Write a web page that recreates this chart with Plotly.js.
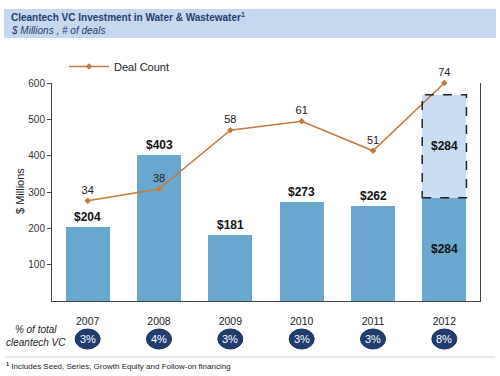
<!DOCTYPE html>
<html>
<head>
<meta charset="utf-8">
<script src="https://cdn.plot.ly/plotly-3.0.1.min.js"></script>
<style>html,body{margin:0;padding:0;background:#fff;}#chart{width:500px;height:376px;}</style>
</head>
<body>
<div id="chart"></div>
<script>
// ---- data ----
const years = ["2007", "2008", "2009", "2010", "2011", "2012"];
const investment = [204, 403, 181, 273, 262, 284];
const projected = [0, 0, 0, 0, 0, 284];
const dealCount = [34, 38, 58, 61, 51, 74];
const pctOfTotal = ["3%", "4%", "3%", "3%", "3%", "8%"];

const FONT = "Liberation Sans, Arial, sans-serif";
const NAVY = "#1f3d6e";
const BAR = "#69a7cf";
const BAR_LIGHT = "#c9def2";
const LINE = "#c47a3c";

// paper helpers: plot area 52..480 px horizontally, 83..301 px vertically
const L = 52, R = 480, T = 83, B = 301;
const px = v => (v - L) / (R - L);
const py = v => (B - v) / (B - T);
const n = years.length;
const catPaper = i => (i + 0.5) / n;

const xi = years.map((_, i) => i);

const traces = [
  {
    type: "bar", x: xi, y: investment, width: 0.62,
    marker: {color: BAR}, showlegend: false, hoverinfo: "skip"
  },
  {
    type: "bar", x: xi, y: projected, width: 0.62,
    marker: {color: BAR_LIGHT}, showlegend: false, hoverinfo: "skip"
  },
  {
    type: "scatter", mode: "lines+markers+text", x: xi, y: dealCount, yaxis: "y2",
    name: "Deal Count",
    line: {color: LINE, width: 1.5},
    marker: {color: LINE, size: 5, symbol: "diamond"},
    text: dealCount.map(String), textposition: "top center",
    textfont: {family: FONT, size: 11, color: "#222"},
    cliponaxis: false, hoverinfo: "skip"
  }
];

const annotations = [];
const shapes = [];

// title band
shapes.push({type: "rect", xref: "paper", yref: "paper",
  x0: px(4), x1: px(496), y0: py(38), y1: py(9),
  fillcolor: "#c6d8ef", line: {width: 0}, layer: "below"});
annotations.push({xref: "paper", yref: "paper", x: px(9), y: py(17), xanchor: "left", yanchor: "middle",
  text: "<b>Cleantech VC Investment in Water &amp; Wastewater<sup>1</sup></b>", showarrow: false,
  font: {family: FONT, size: 10, color: NAVY}});
annotations.push({xref: "paper", yref: "paper", x: px(9), y: py(30), xanchor: "left", yanchor: "middle",
  text: "<i>$ Millions , # of deals</i>", showarrow: false,
  font: {family: FONT, size: 10, color: NAVY}});

// y-axis title
annotations.push({xref: "paper", yref: "paper", x: px(20), y: py(191), xanchor: "center", yanchor: "middle",
  text: "$ Millions", textangle: -90, showarrow: false,
  font: {family: FONT, size: 11, color: "#222"}});

// bar value labels
investment.forEach((v, i) => {
  const tot = v + projected[i];
  if (projected[i] > 0) {
    annotations.push({x: i, y: v / 2, xref: "x", yref: "y", text: "<b>$" + v + "</b>", showarrow: false,
      font: {family: FONT, size: 12, color: "#111"}});
    annotations.push({x: i, y: v + projected[i] / 2, xref: "x", yref: "y", text: "<b>$" + projected[i] + "</b>", showarrow: false,
      font: {family: FONT, size: 12, color: "#111"}});
    shapes.push({type: "rect", xref: "x", yref: "y", x0: i - 0.31, x1: i + 0.31, y0: v, y1: tot,
      line: {color: "#222", width: 1.5, dash: "dash"}, fillcolor: "rgba(0,0,0,0)"});
  } else {
    annotations.push({x: i, y: v, xref: "x", yref: "y", yanchor: "bottom", yshift: 1,
      text: "<b>$" + v + "</b>", showarrow: false,
      font: {family: FONT, size: 12, color: "#111"}});
  }
});

// % of total ovals
pctOfTotal.forEach((p, i) => {
  const c = catPaper(i), hw = 12.5 / (R - L);
  shapes.push({type: "circle", xref: "paper", yref: "paper", x0: c - hw, x1: c + hw,
    y0: py(349), y1: py(329), fillcolor: NAVY, line: {color: "#16305a", width: 1}});
  annotations.push({x: c, y: py(339), xref: "paper", yref: "paper", text: p, showarrow: false,
    xanchor: "center", yanchor: "middle",
    font: {family: FONT, size: 11, color: "#fff"}});
});
annotations.push({xref: "paper", yref: "paper", x: px(36), y: py(336), xanchor: "center", yanchor: "middle",
  text: "<i>% of total<br>cleantech VC</i>", showarrow: false, align: "center",
  font: {family: FONT, size: 10, color: "#222"}});

// separator & footnote
shapes.push({type: "line", xref: "paper", yref: "paper", x0: px(5), x1: px(495), y0: py(357), y1: py(357),
  line: {color: "#c8d0da", width: 1}});
annotations.push({xref: "paper", yref: "paper", x: px(4), y: py(366), xanchor: "left", yanchor: "middle",
  text: "<b><sup>1</sup></b> Includes Seed, Series, Growth Equity and Follow-on financing", showarrow: false,
  font: {family: FONT, size: 8, color: "#222"}});

const layout = {
  width: 500, height: 376,
  margin: {l: L, r: 500 - R, t: T, b: 376 - B, pad: 0},
  paper_bgcolor: "#fff", plot_bgcolor: "#fff",
  barmode: "stack",
  font: {family: FONT, size: 11, color: "#333"},
  xaxis: {
    range: [-0.5, 5.5], tickvals: xi, ticktext: years,
    showline: true, linecolor: "#444", linewidth: 1,
    ticks: "outside", ticklen: 10, tickcolor: "rgba(0,0,0,0)",
    tickfont: {family: FONT, size: 10.5, color: "#222"},
    showgrid: false, zeroline: false, fixedrange: true
  },
  yaxis: {
    range: [0, 600], tickvals: [100, 200, 300, 400, 500, 600],
    showline: true, linecolor: "#444", linewidth: 1,
    ticks: "outside", ticklen: 4, tickcolor: "#444",
    tickfont: {family: FONT, size: 10, color: "#333"},
    showgrid: false, zeroline: false
  },
  yaxis2: {
    range: [0, 74], overlaying: "y", side: "right",
    showline: true, linecolor: "#444", linewidth: 1,
    showticklabels: false, ticks: "", showgrid: false, zeroline: false
  },
  showlegend: true,
  legend: {x: px(64), y: py(52), xanchor: "left", yanchor: "top", orientation: "h",
    font: {family: FONT, size: 11, color: "#222"}, bgcolor: "rgba(0,0,0,0)", itemwidth: 40},
  shapes: shapes,
  annotations: annotations
};

Plotly.newPlot("chart", traces, layout, {displayModeBar: false, staticPlot: true});
</script>
</body>
</html>
